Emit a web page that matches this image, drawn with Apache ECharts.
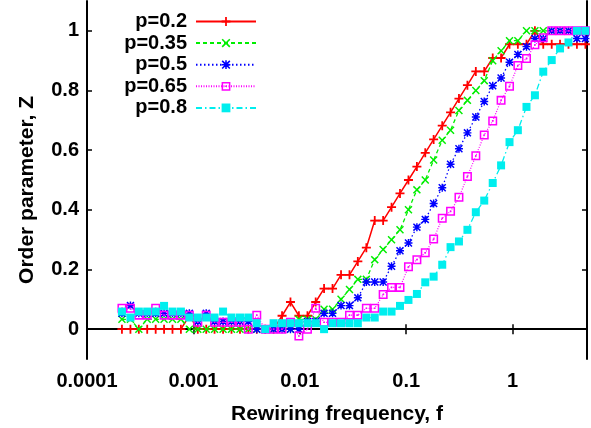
<!DOCTYPE html>
<html>
<head>
<meta charset="utf-8">
<script src="https://cdn.jsdelivr.net/npm/echarts@6/dist/echarts.min.js"></script>
<style>
  html, body { margin: 0; padding: 0; background: #fff; }
  #chart { width: 591px; height: 428px; }
</style>
</head>
<body>
<div id="chart"></div>
<script>
// Rewiring frequency values (shared by all series)
var freq = [
  0.000213, 0.000256, 0.000307, 0.000368, 0.000442, 0.000530, 0.000636, 0.000763,
  0.000916, 0.00110, 0.00132, 0.00158, 0.00190, 0.00228, 0.00274, 0.00328,
  0.00394, 0.00473, 0.00567, 0.00681, 0.00817, 0.00980, 0.0118, 0.0141,
  0.0169, 0.0203, 0.0244, 0.0293, 0.0351, 0.0422, 0.0506, 0.0607,
  0.0728, 0.0874, 0.105, 0.126, 0.151, 0.181, 0.218, 0.261,
  0.313, 0.376, 0.451, 0.541, 0.650, 0.779, 0.935, 1.12,
  1.35, 1.62, 1.94, 2.33, 2.79, 3.35, 4.02, 4.83
];

var seriesNames = ['p=0.2', 'p=0.35', 'p=0.5', 'p=0.65', 'p=0.8'];

var zP02 = [
  0, 0, 0, 0, 0, 0, 0, 0,
  0.045, 0, 0, 0, 0, 0, 0, 0,
  0, 0, 0, 0.045, 0.091, 0.045, 0.045, 0.091,
  0.136, 0.136, 0.182, 0.182, 0.227, 0.273, 0.364, 0.364,
  0.409, 0.455, 0.5, 0.545, 0.591, 0.636, 0.682, 0.727,
  0.773, 0.818, 0.864, 0.864, 0.909, 0.909, 0.955, 0.955,
  0.955, 1, 0.955, 0.955, 0.955, 0.955, 0.955, 0.955
];

var zP035 = [
  0.033, 0.033, 0, 0.033, 0.033, 0.033, 0.033, 0.033,
  0, 0, 0, 0, 0, 0, 0, 0,
  0, 0, 0, 0, 0, 0.033, 0.033, 0.033,
  0.067, 0.067, 0.1, 0.133, 0.167, 0.167, 0.233, 0.267,
  0.3, 0.333, 0.4, 0.467, 0.5, 0.567, 0.633, 0.667,
  0.733, 0.767, 0.8, 0.833, 0.9, 0.933, 0.967, 0.967,
  1, 1, 1, 1, 1, 1, 1, 1
];

var zP05 = [
  0.053, 0.079, 0.053, 0.053, 0.053, 0.053, 0.053, 0.053,
  0.053, 0.026, 0.053, 0.026, 0.026, 0.026, 0.026, 0.026,
  0, 0, 0, 0, 0, 0, 0.026, 0.026,
  0.053, 0.053, 0.079, 0.079, 0.105, 0.158, 0.158, 0.158,
  0.211, 0.263, 0.289, 0.342, 0.368, 0.421, 0.474, 0.553,
  0.605, 0.658, 0.711, 0.763, 0.816, 0.842, 0.895, 0.921,
  0.947, 0.974, 0.974, 1, 1, 1, 0.974, 0.974
];

var zP065 = [
  0.07, 0.07, 0.047, 0.047, 0.07, 0.047, 0.047, 0.047,
  0.047, 0.023, 0.047, 0.023, 0.023, 0.023, 0.023, 0,
  0.047, 0, 0, 0, 0.023, -0.023, 0, 0.07,
  0.023, 0.023, 0.023, 0.047, 0.047, 0.07, 0.07, 0.116,
  0.14, 0.14, 0.209, 0.233, 0.256, 0.302, 0.372, 0.395,
  0.442, 0.512, 0.581, 0.651, 0.698, 0.767, 0.814, 0.884,
  0.907, 0.953, 0.977, 1, 1, 1, 1, 1
];

var zP08 = [
  0.059, 0.039, 0.059, 0.059, 0.059, 0.078, 0.059, 0.059,
  0.039, 0.039, 0.039, 0.039, 0.059, 0.039, 0.039, 0.039,
  0.02, 0, 0.02, 0.02, 0.02, 0.02, 0.02, 0.02,
  0, 0.02, 0.02, 0.02, 0.02, 0.039, 0.039, 0.059,
  0.059, 0.078, 0.098, 0.118, 0.157, 0.176, 0.216, 0.275,
  0.294, 0.333, 0.392, 0.431, 0.49, 0.549, 0.627, 0.667,
  0.745, 0.784, 0.863, 0.902, 0.941, 0.961, 1, 1
];

var yTicks = [0, 0.2, 0.4, 0.6, 0.8, 1];

var FONT = "'Liberation Sans', Arial, Helvetica, sans-serif";

var SYM_PLUS = 'path://M4,0H6V4H10V6H6V10H4V6H0V4H4Z';
var SYM_X = 'path://M0,1.3L1.3,0L5,3.7L8.7,0L10,1.3L6.3,5L10,8.7L8.7,10L5,6.3L1.3,10L0,8.7L3.7,5Z';
var SYM_STAR = 'path://M4.1,0H5.9V4.1H10V5.9H5.9V10H4.1V5.9H0V4.1H4.1Z M0,1.3L1.3,0L5,3.7L8.7,0L10,1.3L6.3,5L10,8.7L8.7,10L5,6.3L1.3,10L0,8.7L3.7,5Z';
var SYM_BOXDOT = 'path://M0,0H10V10H0Z M1.7,1.7V8.3H8.3V1.7Z M4.1,4.1H5.9V5.9H4.1Z';

function pairs(ys) {
  return freq.map(function (f, i) { return [f, ys[i]]; });
}

var styles = [
  { color: '#ff0000', symbol: SYM_PLUS, size: 9, type: 'solid', width: 1.5, z: 2, data: zP02 },
  { color: '#00ee00', symbol: SYM_X, size: 8, type: [4, 3], width: 1.3, z: 3, data: zP035 },
  { color: '#0000ff', symbol: SYM_STAR, size: 8, type: [1.5, 2.5], width: 1.3, z: 4, data: zP05 },
  { color: '#ff00ff', symbol: SYM_BOXDOT, size: 9, type: [1, 1.5], width: 1.2, z: 5, data: zP065 },
  { color: '#00eeee', symbol: 'rect', size: 8, type: [6, 3, 1.5, 3], width: 1.3, z: 6, data: zP08 }
];

var series = styles.map(function (s, i) {
  return {
    name: seriesNames[i],
    type: 'line',
    data: pairs(s.data),
    symbol: s.symbol,
    symbolSize: s.size,
    showSymbol: true,
    showAllSymbol: true,
    z: s.z,
    itemStyle: { color: s.color },
    lineStyle: { color: s.color, width: s.width, type: s.type },
    emphasis: { disabled: true },
    animation: false
  };
});

var axisLineStyle = { show: true, lineStyle: { color: '#000', width: 2 } };
var tickStyle = { show: true, inside: true, length: 5, lineStyle: { color: '#000', width: 1.5 } };

var chart = echarts.init(document.getElementById('chart'), null, { renderer: 'canvas' });
chart.setOption({
  animation: false,
  backgroundColor: '#fff',
  grid: { left: 87, right: 4, top: 1, bottom: 69, containLabel: false, outerBoundsMode: 'none' },
  legend: {
    data: seriesNames,
    orient: 'vertical',
    left: 112,
    top: 6.5,
    align: 'right',
    itemWidth: 60,
    itemHeight: 11,
    itemGap: 1.6,
    selectedMode: false,
    textStyle: {
      fontFamily: FONT, fontWeight: 'bold', fontSize: 20, color: '#000',
      width: 70, align: 'right', lineHeight: 14, padding: [0, 4, 0, 0]
    }
  },
  xAxis: [
    {
      type: 'log', logBase: 10, min: 0.0001, max: 5,
      position: 'bottom',
      name: 'Rewiring frequency, f',
      nameLocation: 'middle',
      nameGap: 45,
      nameTextStyle: { fontFamily: FONT, fontWeight: 'bold', fontSize: 21, color: '#000' },
      axisLine: axisLineStyle,
      axisTick: tickStyle,
      axisLabel: {
        fontFamily: FONT, fontWeight: 'bold', fontSize: 20, color: '#000', margin: 12,
        showMaxLabel: false,
        formatter: function (v) { return String(+(+v).toPrecision(6)); }
      },
      splitLine: { show: false },
      minorTick: { show: false }
    },
    {
      type: 'log', logBase: 10, min: 0.0001, max: 5,
      position: 'top',
      axisLine: axisLineStyle,
      axisTick: tickStyle,
      axisLabel: { show: false },
      splitLine: { show: false }
    }
  ],
  yAxis: [
    {
      type: 'value', min: -0.1, max: 1.1,
      position: 'left',
      name: 'Order parameter, Z',
      nameLocation: 'middle',
      nameGap: 49,
      nameTextStyle: { fontFamily: FONT, fontWeight: 'bold', fontSize: 21, color: '#000', padding: [0, 20, 0, 0] },
      axisLine: axisLineStyle,
      axisTick: Object.assign({}, tickStyle, { customValues: yTicks }),
      axisLabel: {
        fontFamily: FONT, fontWeight: 'bold', fontSize: 20, color: '#000', margin: 8,
        customValues: yTicks,
        formatter: function (v) { return String(Math.round(v * 10) / 10); }
      },
      splitLine: { show: false }
    },
    {
      type: 'value', min: -0.1, max: 1.1,
      position: 'right',
      axisLine: axisLineStyle,
      axisTick: Object.assign({}, tickStyle, { customValues: yTicks }),
      axisLabel: { show: false },
      splitLine: { show: false }
    }
  ],
  series: series
});
</script>
</body>
</html>
